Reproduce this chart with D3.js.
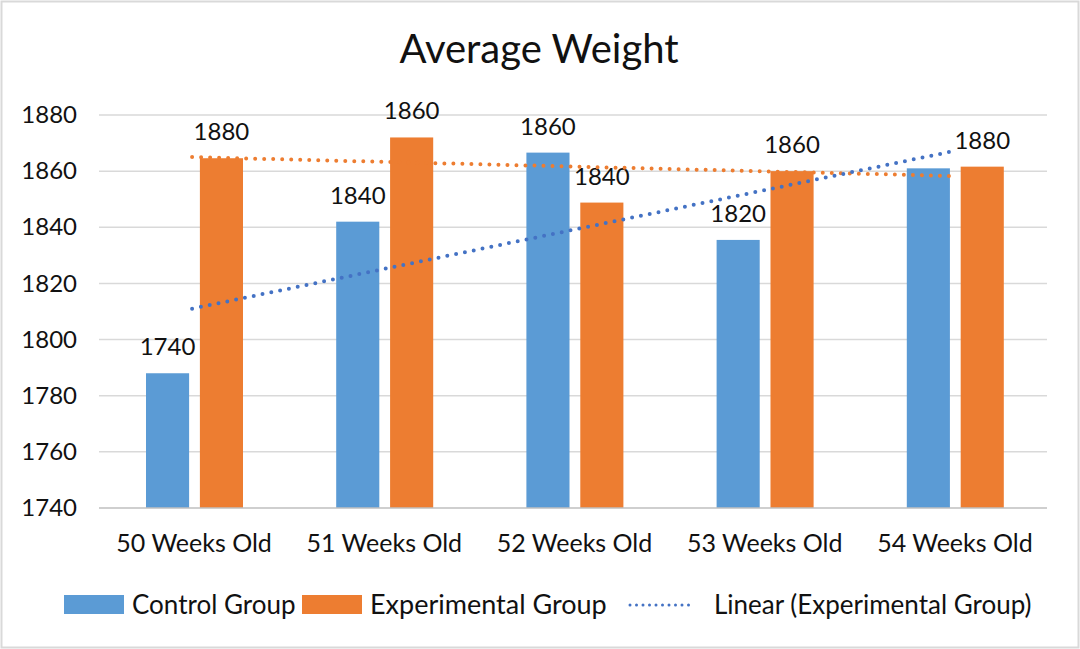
<!DOCTYPE html>
<html>
<head>
<meta charset="utf-8">
<script src="https://cdn.jsdelivr.net/npm/d3@7"></script>
<style>
  html, body { margin: 0; padding: 0; background: #fff; }
  svg { display: block; }
  text { font-family: Lato, "Open Sans", sans-serif; fill: #111; }
</style>
</head>
<body>
<svg id="chart" width="1080" height="649"></svg>
<script>
// ---- data ----
const categories = ["50 Weeks Old", "51 Weeks Old", "52 Weeks Old", "53 Weeks Old", "54 Weeks Old"];
const controlValues = [1788, 1842, 1866.6, 1835.5, 1861];
const experimentalValues = [1864.6, 1872, 1848.8, 1860, 1861.6];
const controlLabels = ["1740", "1840", "1860", "1820", ""];
const experimentalLabels = ["1880", "1860", "1840", "1860", "1880"];
const trendExperimental = [1865, 1858.3];   // orange dotted (start, end)
const trendLinear = [1811, 1866.8];         // blue dotted, "Linear (Experimental Group)"
const yTicks = [1740, 1760, 1780, 1800, 1820, 1840, 1860, 1880];
const seriesNames = ["Control Group", "Experimental Group", "Linear (Experimental Group)"];

const colors = { control: "#5B9BD5", experimental: "#ED7D31", trendBlue: "#4472C4" };

const svg = d3.select("#chart");
const W = 1080, H = 649;

// border
svg.append("rect").attr("x", 1.5).attr("y", 1.5).attr("width", W - 3).attr("height", H - 3)
  .attr("fill", "#fff").attr("stroke", "#d9d9d9").attr("stroke-width", 2);

const plot = { left: 99, right: 1050, top: 115, bottom: 508 };

const x = d3.scaleBand().domain(categories).range([plot.left, plot.right]).paddingInner(0).paddingOuter(0);
const y = d3.scaleLinear().domain([1740, 1880]).range([plot.bottom, plot.top]);
const inner = d3.scaleBand().domain(["c", "e"]).range([47, 144]).paddingInner(0.2).paddingOuter(0);

// title
svg.append("text").attr("x", 539).attr("y", 63).attr("text-anchor", "middle")
  .style("font-size", "40px").text("Average Weight");

// gridlines
svg.append("g").selectAll("line").data(yTicks.slice(1)).join("line")
  .attr("x1", plot.left).attr("x2", plot.right - 3)
  .attr("y1", d => y(d)).attr("y2", d => y(d))
  .attr("stroke", "#d9d9d9").attr("stroke-width", 1.5);

// y axis
const yAxis = svg.append("g").attr("transform", `translate(${plot.left},0)`)
  .call(d3.axisLeft(y).tickValues(yTicks).tickSize(0).tickPadding(22).tickFormat(d3.format("d")));
yAxis.select(".domain").remove();
yAxis.selectAll("text").style("font-size", "24px").attr("fill", "#111");

// bars
const groups = svg.append("g").selectAll("g").data(categories).join("g")
  .attr("transform", d => `translate(${x(d)},0)`);
groups.append("rect")
  .attr("x", inner("c")).attr("width", inner.bandwidth())
  .attr("y", (d, i) => y(controlValues[i])).attr("height", (d, i) => y(1740) - y(controlValues[i]))
  .attr("fill", colors.control);
groups.append("rect")
  .attr("x", inner("e")).attr("width", inner.bandwidth())
  .attr("y", (d, i) => y(experimentalValues[i])).attr("height", (d, i) => y(1740) - y(experimentalValues[i]))
  .attr("fill", colors.experimental);

// x axis line
svg.append("line").attr("x1", plot.left).attr("x2", plot.right - 3)
  .attr("y1", y(1740)).attr("y2", y(1740)).attr("stroke", "#bfbfbf").attr("stroke-width", 1.5);

// x axis labels
const xAxis = svg.append("g").attr("transform", `translate(0,${plot.bottom})`)
  .call(d3.axisBottom(x).tickSize(0).tickPadding(26));
xAxis.select(".domain").remove();
xAxis.selectAll("text").style("font-size", "25px").attr("fill", "#111");

// data labels
groups.append("text")
  .attr("x", inner("c") + inner.bandwidth() / 2)
  .attr("y", (d, i) => y(controlValues[i]) - 18)
  .attr("text-anchor", "middle").style("font-size", "24px")
  .text((d, i) => controlLabels[i]);
groups.append("text")
  .attr("x", inner("e") + inner.bandwidth() / 2)
  .attr("y", (d, i) => y(experimentalValues[i]) - 18)
  .attr("text-anchor", "middle").style("font-size", "24px")
  .text((d, i) => experimentalLabels[i]);

// trendlines
const cx = c => x(c) + x.bandwidth() / 2;
const first = categories[0], last = categories[categories.length - 1];
function trend(vals, color) {
  const x1 = cx(first) - 2, x2 = cx(last) - 6, y1 = y(vals[0]), y2 = y(vals[1]);
  const L = Math.hypot(x2 - x1, y2 - y1);
  const gap = L / Math.round(L / 9);
  svg.append("line")
    .attr("x1", x1).attr("y1", y1).attr("x2", x2).attr("y2", y2)
    .attr("stroke", color).attr("stroke-width", 4)
    .attr("stroke-linecap", "round").attr("stroke-dasharray", `0,${gap}`);
}
trend(trendExperimental, colors.experimental);
trend(trendLinear, colors.trendBlue);

// legend
const lg = svg.append("g");
const ly = 605;
lg.append("rect").attr("x", 64).attr("y", ly - 10).attr("width", 60).attr("height", 19).attr("fill", colors.control);
lg.append("text").attr("x", 132).attr("y", ly + 9).style("font-size", "26px").text(seriesNames[0]);
lg.append("rect").attr("x", 302).attr("y", ly - 10).attr("width", 60).attr("height", 19).attr("fill", colors.experimental);
lg.append("text").attr("x", 370).attr("y", ly + 9).style("font-size", "27px").text(seriesNames[1]);
lg.append("line").attr("x1", 630).attr("x2", 695).attr("y1", ly).attr("y2", ly)
  .attr("stroke", colors.trendBlue).attr("stroke-width", 3).attr("stroke-linecap", "round").attr("stroke-dasharray", "0,6.5");
lg.append("text").attr("x", 714).attr("y", ly + 9).style("font-size", "26px").text(seriesNames[2]);
</script>
</body>
</html>
